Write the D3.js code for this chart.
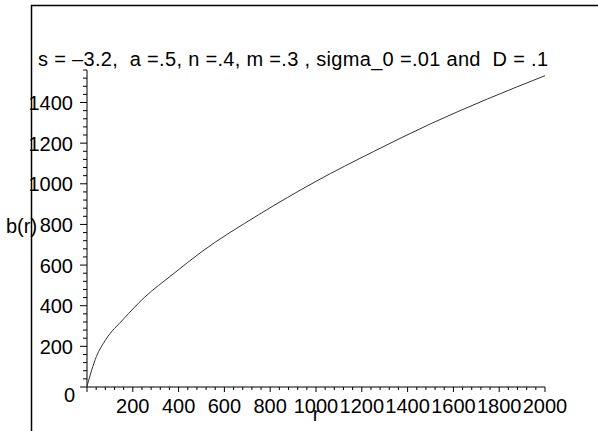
<!DOCTYPE html>
<html>
<head>
<meta charset="utf-8">
<script src="https://cdn.jsdelivr.net/npm/d3@7"></script>
<style>
  body { margin: 0; background: #fff; }
  svg { display: block; }
  text { font-family: "Liberation Sans", Arial, Helvetica, sans-serif; fill: #000; }
</style>
</head>
<body>
<div id="chart"></div>
<script>
// values
const rValues = [0, 41, 80, 160, 250, 375, 500, 750, 1000, 1250, 1500, 1750, 2000];
const bValues = [4, 150, 230, 335, 440, 555, 665, 848, 1012, 1158, 1295, 1418, 1532];
const xTicks = [200, 400, 600, 800, 1000, 1200, 1400, 1600, 1800, 2000];
const yTicks = [200, 400, 600, 800, 1000, 1200, 1400];
const titleText = "s = \u20133.2,  a =.5, n =.4, m =.3 , sigma_0 =.01 and  D = .1";

const width = 598, height = 431;

const svg = d3.select("#chart")
  .append("svg")
  .attr("width", width)
  .attr("height", height);

// frame (top and left edges only)
svg.append("path")
  .attr("d", `M31.5,${height} V5.5 H${width}`)
  .attr("fill", "none")
  .attr("stroke", "#000")
  .attr("stroke-width", 1.5);

// scales
const x = d3.scaleLinear().domain([0, 2000]).range([87, 545]);
const y = d3.scaleLinear().domain([0, 1560]).range([387, 70]);

const fs = 20;

// x axis: line, minor and major ticks hanging down
const xAxis = svg.append("g");
xAxis.append("line")
  .attr("x1", x(0)).attr("x2", x(2000))
  .attr("y1", y(0)).attr("y2", y(0))
  .attr("stroke", "#000");
xAxis.selectAll(".xminor")
  .data(d3.range(0, 2001, 40))
  .enter().append("line")
    .attr("x1", d => x(d)).attr("x2", d => x(d))
    .attr("y1", y(0))
    .attr("y2", d => y(0) + (d % 200 === 0 ? 5 : 3))
    .attr("stroke", "#000");
xAxis.selectAll(".xlabel")
  .data(xTicks)
  .enter().append("text")
    .attr("x", d => x(d))
    .attr("y", 413)
    .attr("text-anchor", "middle")
    .style("font-size", fs + "px")
    .text(d => d);

// y axis: line, minor and major ticks to the left
const yAxis = svg.append("g");
yAxis.append("line")
  .attr("x1", x(0)).attr("x2", x(0))
  .attr("y1", y(0)).attr("y2", y(1560))
  .attr("stroke", "#000");
yAxis.selectAll(".yminor")
  .data(d3.range(0, 1561, 40))
  .enter().append("line")
    .attr("y1", d => y(d)).attr("y2", d => y(d))
    .attr("x1", x(0))
    .attr("x2", d => x(0) - (d % 200 === 0 ? 7 : 4))
    .attr("stroke", "#000");
yAxis.selectAll(".ylabel")
  .data(yTicks)
  .enter().append("text")
    .attr("x", 73)
    .attr("y", d => y(d) + 7.5)
    .attr("text-anchor", "end")
    .style("font-size", fs + "px")
    .text(d => d);
// the zero label sits a bit below the origin in the original
yAxis.append("text")
  .attr("x", 75)
  .attr("y", 402)
  .attr("text-anchor", "end")
  .style("font-size", fs + "px")
  .text("0");

// axis titles
svg.append("text")
  .attr("x", x(1000))
  .attr("y", 421)
  .attr("text-anchor", "middle")
  .style("font-size", fs + "px")
  .text("r");
svg.append("text")
  .attr("x", 6)
  .attr("y", 233)
  .style("font-size", fs + "px")
  .text("b(r)");

// plot title, spaces kept as in the original
svg.append("text")
  .attr("x", 38)
  .attr("y", 66)
  .attr("xml:space", "preserve")
  .style("white-space", "pre")
  .attr("textLength", 510)
  .attr("lengthAdjust", "spacing")
  .style("font-size", fs + "px")
  .text(titleText);

// the curve
const pts = rValues.map((r, i) => [r, bValues[i]]);
svg.append("path")
  .datum(pts)
  .attr("fill", "none")
  .attr("stroke", "#333")
  .attr("stroke-width", 1)
  .attr("d", d3.line()
    .x(d => x(d[0]))
    .y(d => y(d[1]))
    .curve(d3.curveMonotoneX));
</script>
</body>
</html>
